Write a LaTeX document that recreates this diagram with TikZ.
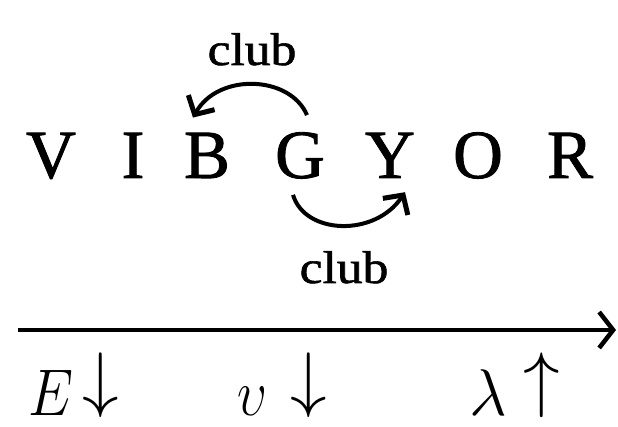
\RequirePackage{fix-cm}
\documentclass[tikz,border=0pt]{standalone}
\usepackage{fontspec}
\setmainfont{Liberation Serif}
\newfontfamily\heavyserif{Liberation Serif}[FakeBold=1.2]
\usetikzlibrary{arrows.meta}
\begin{document}
\begin{tikzpicture}[x=1pt,y=1pt,
  letter/.style={inner sep=0pt, anchor=base, font=\heavyserif\fontsize{69}{80}\selectfont},
  clubtext/.style={inner sep=0pt, anchor=base, xscale=1.12, font=\heavyserif\fontsize{46}{50}\selectfont},
  mathlbl/.style={inner sep=0pt, anchor=base west, font=\fontsize{66}{70}\selectfont},
  arrlbl/.style={inner sep=0pt, anchor=south, font=\fontsize{73}{80}\selectfont},
  bendarrow/.style={line width=4pt, -{Straight Barb[length=14pt,width=30pt,line width=5pt]}},
  axisarrow/.style={line width=4pt, -{Straight Barb[length=14pt,width=36pt,line width=4.5pt]}}]
\useasboundingbox (0,0) rectangle (618,427);
\node[letter] (V) at (51,249) {V};
\node[letter] (I) at (133,249) {I};
\node[letter] (B) at (207,249) {B};
\node[letter] (G) at (300,249) {G};
\node[letter] (Yl) at (390,249) {Y};
\node[letter] (O) at (478,249) {O};
\node[letter] (R) at (570,249) {R};
\node[clubtext] (c1) at (252,362) {club};
\node[clubtext] (c2) at (344,144) {club};
\draw[bendarrow] ([xshift=7pt,yshift=17pt]G.north) .. controls +(-17,40) and +(25,45) .. ([xshift=-14pt,yshift=15pt]B.north);
\draw[bendarrow] ([xshift=-7pt,yshift=-16pt]G.south) .. controls +(12,-40) and +(-30,-45) .. ([xshift=15pt,yshift=-14pt]Yl.south);
\coordinate (a0) at (18,97);
\coordinate (a1) at (616,97);
\draw[axisarrow] (a0) -- (a1);
\node[mathlbl, xscale=0.87] (E) at (28,11) {$E$};
\node[arrlbl] (d1) at (101,9) {$\downarrow$};
\node[mathlbl, xscale=0.8] (u) at (237,11) {$\upsilon$};
\node[arrlbl] (d2) at (309,9) {$\downarrow$};
\node[mathlbl] (l) at (469,11) {$\lambda$};
\node[arrlbl] (up) at (542,9) {$\uparrow$};
\end{tikzpicture}
\end{document}
